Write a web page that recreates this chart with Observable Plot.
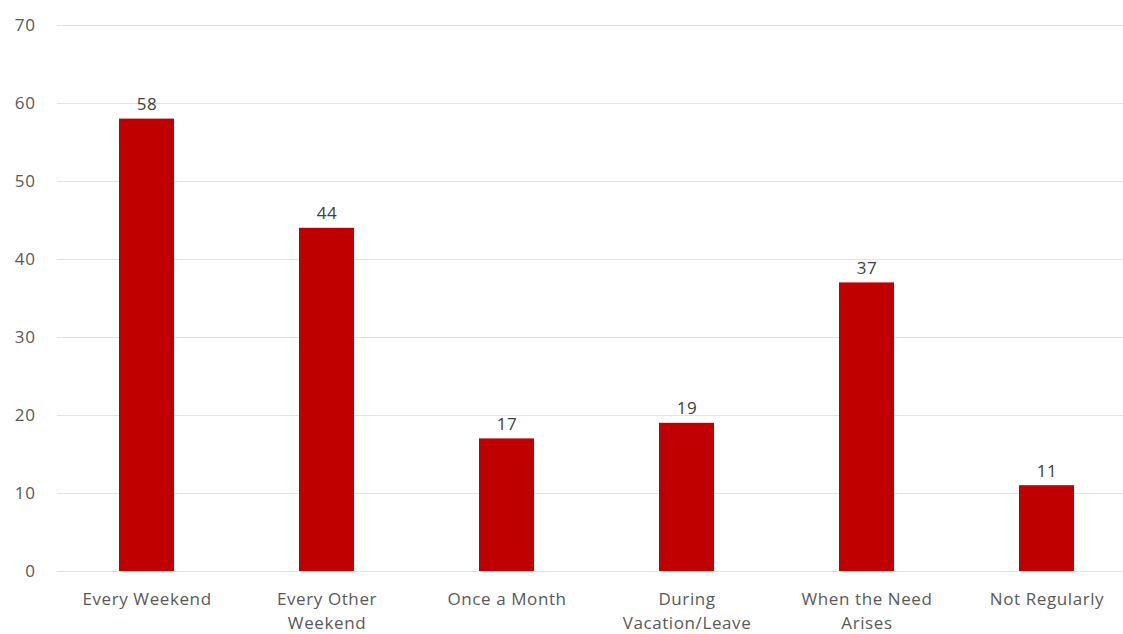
<!DOCTYPE html>
<html><head><meta charset="utf-8">
<script src="https://cdn.jsdelivr.net/npm/d3@7"></script>
<script src="https://cdn.jsdelivr.net/npm/@observablehq/plot@0.6"></script>
<style>body{margin:0;background:#fff;overflow:hidden}svg{overflow:visible}</style>
</head><body><div id="chart"></div>
<script>
const categories = ["Every Weekend", "Every Other\nWeekend", "Once a Month", "During\nVacation/Leave", "When the Need\nArises", "Not Regularly"];
const values = [58, 44, 17, 19, 37, 11];
const yTicks = [0, 10, 20, 30, 40, 50, 60, 70];

const data = categories.map((c, i) => ({cat: c, v: values[i]}));
const font = "'Open Sans', sans-serif";
const chart = Plot.plot({
  width: 1123, height: 634,
  marginTop: 25, marginBottom: 63, marginLeft: 57, marginRight: 0,
  style: {fontFamily: font, fontSize: "17px", color: "#595959", background: "#fff", letterSpacing: "0.6px"},
  x: {domain: categories, range: [57, 1137], paddingInner: 0.694, paddingOuter: 0.347, align: 0.5},
  y: {domain: [0, 70]},
  marks: [
    Plot.ruleY(yTicks, {stroke: "#e3e3e3", strokeWidth: 1}),
    Plot.axisY(yTicks, {tickSize: 0, tickPadding: 0, dx: -22, textAnchor: "end", fill: "#595959", fontSize: 17, label: null}),
    Plot.barY(data, {x: "cat", y: "v", fill: "#c00000"}),
    Plot.text(data, {x: "cat", y: "v", text: d => String(d.v), dy: -9, lineAnchor: "bottom", fill: "#404040", fontSize: 17}),
    Plot.axisX({tickSize: 0, tickPadding: 16, fill: "#595959", fontSize: 17, lineHeight: 1.42, label: null, lineAnchor: "top"})
  ]
});
document.getElementById("chart").append(chart);
</script></body></html>
